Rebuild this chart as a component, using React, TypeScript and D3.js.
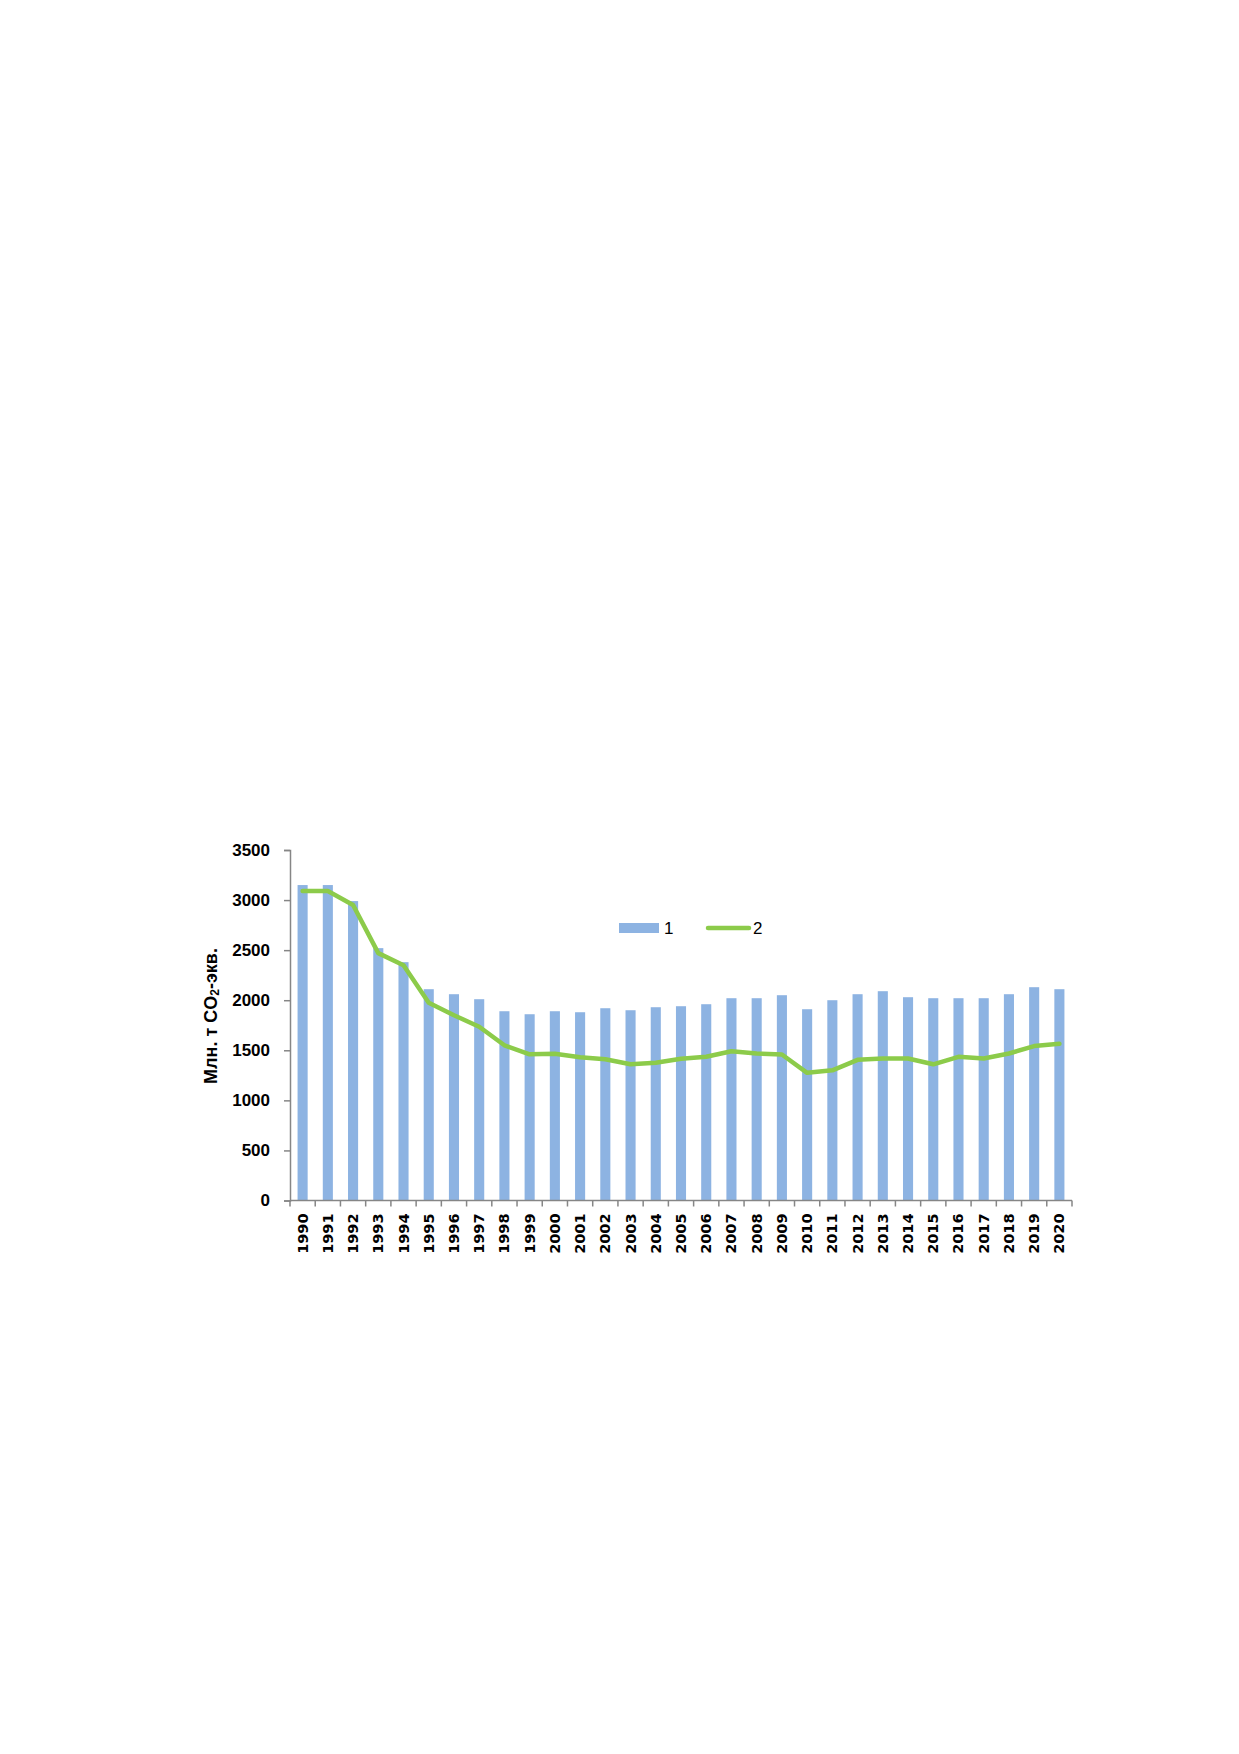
import { useEffect, useRef } from 'react';
import * as d3 from 'd3';

const years = [
  '1990', '1991', '1992', '1993', '1994', '1995', '1996', '1997', '1998', '1999',
  '2000', '2001', '2002', '2003', '2004', '2005', '2006', '2007', '2008', '2009',
  '2010', '2011', '2012', '2013', '2014', '2015', '2016', '2017', '2018', '2019', '2020',
];

// series 1 (bars)
const series1 = [
  3150, 3150, 2990, 2520, 2380, 2110, 2060, 2010, 1890, 1860,
  1890, 1880, 1920, 1900, 1930, 1940, 1960, 2020, 2020, 2050,
  1910, 2000, 2060, 2090, 2030, 2020, 2020, 2020, 2060, 2130, 2110,
];

// series 2 (line)
const series2 = [
  3090, 3090, 2950, 2470, 2350, 1975, 1850, 1735, 1550, 1460,
  1465, 1430, 1410, 1360, 1375, 1415, 1435, 1490, 1468, 1458,
  1275, 1300, 1405, 1418, 1418, 1360, 1435, 1418, 1468, 1542, 1565,
];

const yTicks = [0, 500, 1000, 1500, 2000, 2500, 3000, 3500];
const legendLabels = ['1', '2'];

const W = 1239;
const H = 1754;
const BAR_COLOR = '#8DB3E2';
const LINE_COLOR = '#8CCB4A';
const AXIS_COLOR = '#868686';

export default function App() {
  const svgRef = useRef<SVGSVGElement>(null);

  useEffect(() => {
    if (!svgRef.current) return;
    const svg = d3.select(svgRef.current);
    svg.selectAll('*').remove();

    const left = 290;
    const right = 1072;
    const top = 850;
    const bottom = 1200.5;

    const x = d3.scaleBand<string>().domain(years).range([left, right]).paddingInner(0.6).paddingOuter(0.3);
    const xb = d3.scaleBand<string>().domain(years).range([left, right]);
    const y = d3.scaleLinear().domain([0, 3500]).range([bottom, top]);

    // bars
    svg
      .append('g')
      .selectAll('rect')
      .data(series1)
      .join('rect')
      .attr('x', (_, i) => xb(years[i])! + xb.bandwidth() / 2 - x.bandwidth() / 2)
      .attr('y', (d) => y(d))
      .attr('width', x.bandwidth())
      .attr('height', (d) => y(0) - y(d))
      .attr('fill', BAR_COLOR);

    // line
    const line = d3
      .line<number>()
      .x((_, i) => xb(years[i])! + xb.bandwidth() / 2)
      .y((d) => y(d));

    svg
      .append('path')
      .datum(series2)
      .attr('d', line)
      .attr('fill', 'none')
      .attr('stroke', LINE_COLOR)
      .attr('stroke-width', 4.5)
      .attr('stroke-linejoin', 'round')
      .attr('stroke-linecap', 'round');

    // y axis
    const yAxis = svg
      .append('g')
      .attr('transform', `translate(${left},0)`)
      .call(
        d3.axisLeft(y).tickValues(yTicks).tickFormat(d3.format('d')).tickSize(6).tickPadding(14)
      );
    yAxis.select('.domain').attr('stroke', AXIS_COLOR).attr('stroke-width', 1.5);
    yAxis.selectAll('.tick line').attr('stroke', AXIS_COLOR).attr('stroke-width', 1.5);
    yAxis
      .selectAll('.tick text')
      .attr('fill', '#000')
      .style('font-family', '"Liberation Sans", Arial, sans-serif')
      .style('font-weight', '700')
      .style('font-size', '17px');

    // x axis
    const xg = svg.append('g').attr('transform', `translate(0,${bottom})`);
    xg.append('line')
      .attr('x1', left)
      .attr('x2', right)
      .attr('stroke', AXIS_COLOR)
      .attr('stroke-width', 1.5);
    const bounds = [...years.map((yr) => xb(yr)!), right];
    xg.selectAll('line.tk')
      .data(bounds)
      .join('line')
      .attr('class', 'tk')
      .attr('x1', (d) => d)
      .attr('x2', (d) => d)
      .attr('y1', 0)
      .attr('y2', 6)
      .attr('stroke', AXIS_COLOR)
      .attr('stroke-width', 1.5);
    xg.selectAll('text')
      .data(years)
      .join('text')
      .attr('transform', (d) => `translate(${xb(d)! + xb.bandwidth() / 2},13) rotate(-90)`)
      .attr('text-anchor', 'end')
      .attr('dominant-baseline', 'central')
      .style('font-family', '"DejaVu Sans", sans-serif')
      .style('font-weight', '700')
      .style('font-size', '14.5px')
      .text((d) => d);

    // y axis title
    const title = svg
      .append('text')
      .attr('transform', 'translate(211,1016) rotate(-90)')
      .attr('text-anchor', 'middle')
      .attr('dominant-baseline', 'central')
      .style('font-family', '"Liberation Sans", Arial, sans-serif')
      .style('font-weight', '700')
      .style('font-size', '18px');
    title.append('tspan').text('Млн. т CO');
    title.append('tspan').attr('dy', 4).style('font-size', '12px').text('2');
    title.append('tspan').attr('dy', -4).text('-экв.');

    // legend
    const lg = svg
      .append('g')
      .style('font-family', '"Liberation Sans", Arial, sans-serif')
      .style('font-size', '17px');
    lg.append('rect').attr('x', 619).attr('y', 923).attr('width', 40).attr('height', 10).attr('fill', BAR_COLOR);
    lg.append('text').attr('x', 664).attr('y', 934).text(legendLabels[0]);
    lg.append('line')
      .attr('x1', 708)
      .attr('x2', 749)
      .attr('y1', 928)
      .attr('y2', 928)
      .attr('stroke', LINE_COLOR)
      .attr('stroke-width', 4.5)
      .attr('stroke-linecap', 'round');
    lg.append('text').attr('x', 753).attr('y', 934).text(legendLabels[1]);
  }, []);

  return (
    <svg
      ref={svgRef}
      width={W}
      height={H}
      viewBox={`0 0 ${W} ${H}`}
      style={{ position: 'absolute', left: 0, top: 0, background: '#fff' }}
    />
  );
}
